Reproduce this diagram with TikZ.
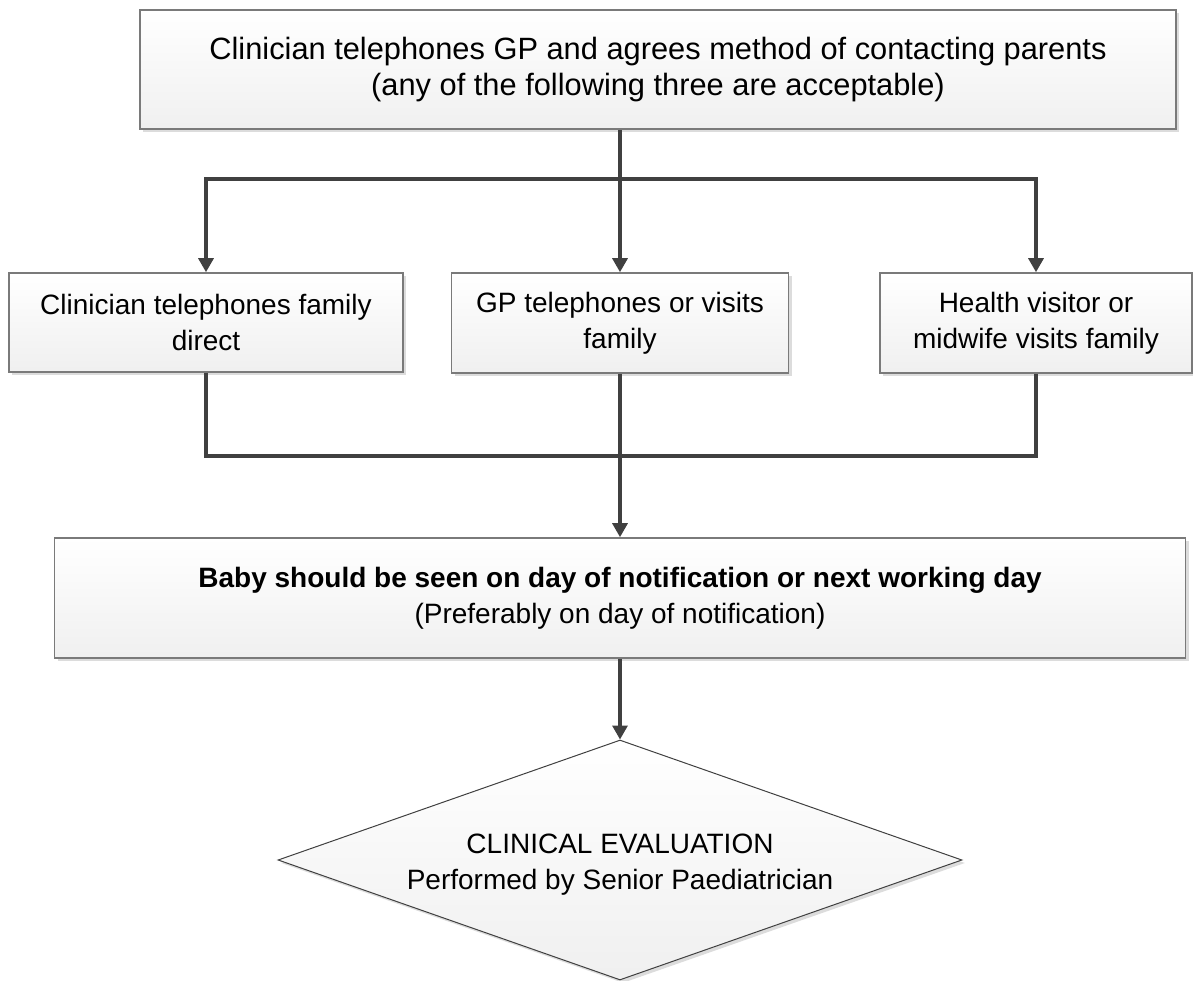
\documentclass[tikz,border=0pt]{standalone}
\usepackage{fontspec}
\setmainfont{Liberation Sans}
\usetikzlibrary{shapes.geometric,shadows,arrows.meta}
\definecolor{edge}{HTML}{7A7A7A}
\definecolor{wire}{HTML}{404040}
\definecolor{shade}{HTML}{DCDCDC}
\begin{document}
\begin{tikzpicture}[x=1pt,y=-1pt,
  every node/.style={font=\fontsize{28}{36}\selectfont, align=center, inner sep=0pt},
  bigtext/.style={font=\fontsize{30.8}{36}\selectfont},
  stepbox/.style={rectangle, draw=edge, line width=1.6pt,
    top color=white, bottom color=black!6,
    drop shadow={shadow xshift=3pt, shadow yshift=-3pt, fill=shade, opacity=1}},
  decision/.style={diamond, draw=wire, line width=1pt,
    top color=white, bottom color=black!6,
    drop shadow={shadow xshift=3pt, shadow yshift=-3pt, fill=shade, opacity=1}},
  link/.style={draw=wire, line width=3.2pt},
  arrow/.style={link, -{Triangle[length=14pt, width=15pt]}}]
\useasboundingbox (0,0) rectangle (1193,981);

% process boxes
\node[stepbox, bigtext, minimum width=1036pt, minimum height=119pt] (top) at (658,69.5)
  {Clinician telephones GP and agrees method of contacting parents\\(any of the following three are acceptable)};
\node[stepbox, minimum width=394pt, minimum height=99pt] (left) at (206,322.5)
  {Clinician telephones family\\direct};
\node[stepbox, minimum width=337pt, minimum height=100pt] (mid) at (620,323)
  {GP telephones or visits\\family};
\node[stepbox, minimum width=312pt, minimum height=100pt] (right) at (1036,323)
  {Health visitor or\\midwife visits family};
\node[stepbox, minimum width=1131pt, minimum height=120pt] (main) at (620,598)
  {\textbf{Baby should be seen on day of notification or next working day}\\(Preferably on day of notification)};

% final decision: fixed-size diamond with its caption laid on top
\node[decision, minimum width=684pt, minimum height=240pt] (eval) at (620,860) {};
\node (evaltext) at ([yshift=-5pt]eval.center)
  {CLINICAL EVALUATION\\Performed by Senior Paediatrician};

% branching and merging points
\coordinate (split) at (mid.north |- 0,179);
\coordinate (join) at (mid.south |- 0,456);

% connectors
\draw[link] (top.south -| split) -- (split);
\draw[arrow] (split) -| (left.north);
\draw[arrow] (split) -- (mid.north);
\draw[arrow] (split) -| (right.north);
\draw[link] (left.south) |- (join);
\draw[link] (right.south) |- (join);
\draw[link] (mid.south) -- (join);
\draw[arrow] (join) -- (main.north);
\draw[arrow] (main.south) -- (eval.north);
\end{tikzpicture}
\end{document}
